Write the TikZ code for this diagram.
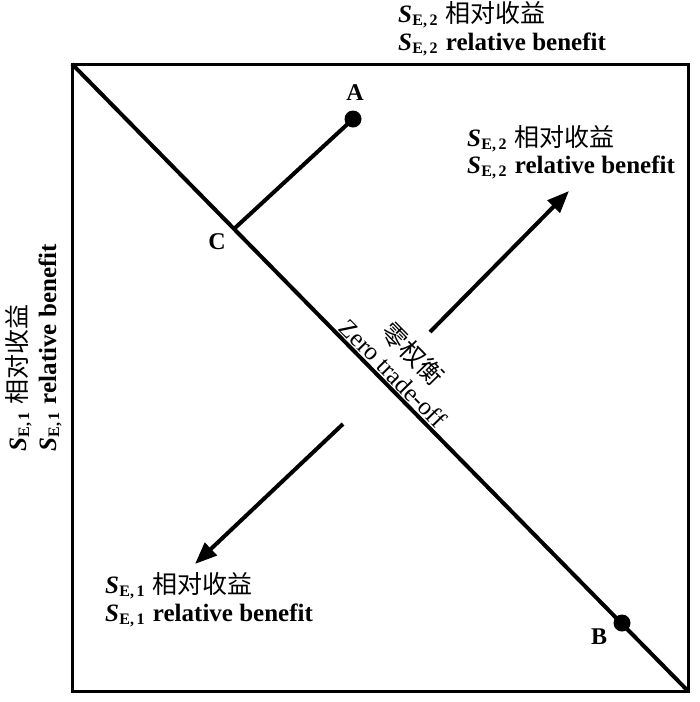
\documentclass[tikz,border=0pt]{standalone}
\usepackage{fontspec}
\setmainfont{Liberation Serif}
\newfontfamily\cjk{Noto Sans CJK SC}
\usetikzlibrary{arrows.meta}
\newcommand\SEsub[1]{\textit{S}\kern0.3pt\raisebox{-3pt}{\fontsize{16}{16}\selectfont E,\,#1}\kern2pt\relax}
\begin{document}
\begin{tikzpicture}[x=1pt,y=-1pt,
  lbl/.style={anchor=base west, inner sep=0pt, font=\fontsize{25}{28}\selectfont\bfseries},
  ptlbl/.style={inner sep=0pt, font=\fontsize{24}{28}\selectfont\bfseries},
  dot/.style={circle, fill=black, inner sep=0pt, minimum size=17pt},
  frame/.style={line width=3pt},
  thick line/.style={line width=4pt},
  arr/.style={line width=4pt, -{Triangle[length=22pt,width=17pt]}}]
\useasboundingbox (0,0) rectangle (700,702);
% frame
\coordinate (tl) at (72,64);
\coordinate (br) at (688,691);
\draw[frame] (tl) rectangle (br);
% diagonal (zero trade-off)
\draw[thick line] (tl) -- (br)
  node[pos=0.507, sloped, above, align=center, inner sep=1.5pt,
       font=\fontsize{25}{27}\selectfont]
  (zt) {{\cjk 零权衡}\\Zero trade-off};
% points
\node[dot] (A) at (353,119) {};
\node[dot] (B) at (622,623) {};
\coordinate (C) at (235,228);
\draw[thick line] (A.center) -- (C);
\node[ptlbl] (Alab) at (355,93) {A};
\node[ptlbl] (Blab) at (599,637) {B};
\node[ptlbl] (Clab) at (217,242) {C};
% arrows
\coordinate (a1s) at (430,332);
\coordinate (a1e) at (569,191);
\coordinate (a2s) at (343,424);
\coordinate (a2e) at (195,564);
\draw[arr] (a1s) -- (a1e);
\draw[arr] (a2s) -- (a2e);
% labels
\node[lbl] (t1) at (398,22) {\SEsub{2} {\cjk\mdseries 相对收益}};
\node[lbl] (t2) at (398,50) {\SEsub{2} relative benefit};
\node[lbl] (r1) at (467,146) {\SEsub{2} {\cjk\mdseries 相对收益}};
\node[lbl] (r2) at (467,173) {\SEsub{2} relative benefit};
\node[lbl] (b1) at (105,593) {\SEsub{1} {\cjk\mdseries 相对收益}};
\node[lbl] (b2) at (105,621) {\SEsub{1} relative benefit};
\node[lbl, rotate=90] (l1) at (26,452) {\SEsub{1} {\cjk\mdseries 相对收益}};
\node[lbl, rotate=90] (l2) at (56,452) {\SEsub{1} relative benefit};
\end{tikzpicture}
\end{document}
